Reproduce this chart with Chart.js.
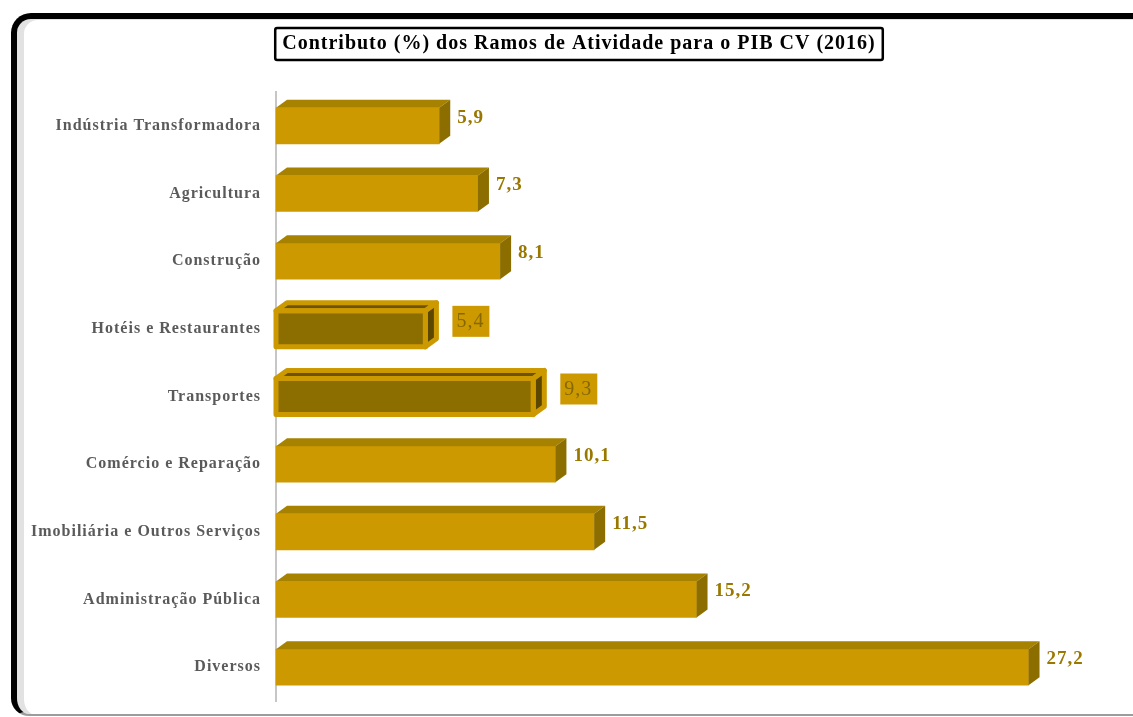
<!DOCTYPE html>
<html lang="pt">
<head>
<meta charset="utf-8">
<title>Contributo (%) dos Ramos de Atividade para o PIB CV (2016)</title>
<script src="https://cdn.jsdelivr.net/npm/chart.js@4/dist/chart.umd.min.js"></script>
<style>
  html, body { margin: 0; padding: 0; background: #ffffff; overflow: hidden; }
  #wrap { position: relative; width: 1133px; height: 717px; overflow: hidden; background: #ffffff; }
  #frame {
    position: absolute; left: 11px; top: 13px; width: 1200px; height: 703px;
    box-sizing: border-box;
    border-top: 6px solid #000; border-left: 6px solid #000;
    border-bottom: 2px solid #9c9c9c;
    border-radius: 20px 0 0 18px;
    box-shadow: inset 7px 1px 0 #e2e2e2;
  }
  #chart { position: absolute; left: 0; top: 0; }
</style>
</head>
<body>
<div id="wrap">
  <div id="frame"></div>
  <canvas id="chart" width="1133" height="717"></canvas>
</div>
<script>
// Ramos de atividade e respetivo contributo (%) para o PIB
const ramos = [
  'Indústria Transformadora',
  'Agricultura',
  'Construção',
  'Hotéis e Restaurantes',
  'Transportes',
  'Comércio e Reparação',
  'Imobiliária e Outros Serviços',
  'Administração Pública',
  'Diversos'
];
const contributo = [5.9, 7.3, 8.1, 5.4, 9.3, 10.1, 11.5, 15.2, 27.2];
// Ramos destacados no gráfico
const destaque = ['Hotéis e Restaurantes', 'Transportes'];

const titulo = 'Contributo (%) dos Ramos de Atividade para o PIB CV (2016)';

const OURO = '#CC9900';
const OURO_TOPO = '#A68200';
const OURO_LADO = '#8C6E00';
const ESCURO = '#8C6D00';
const ESCURO_TOPO = '#6C5400';
const ESCURO_LADO = '#5C4700';
const FONTE = '"Liberation Serif", "Times New Roman", serif';

const isDestaque = i => destaque.includes(ramos[i]);
const fmt = v => v.toFixed(1).replace('.', ',');

// Ligeiro espaçamento entre letras em todo o texto do canvas
const espacamento = {
  id: 'espacamento',
  beforeDraw(chart) { chart.ctx.letterSpacing = '1px'; }
};

// O título fica centrado um pouco à direita do centro do canvas
const posTitulo = {
  id: 'posTitulo',
  afterLayout(chart) {
    const tb = chart.titleBlock;
    if (tb) { tb.left += 16; tb.right += 16; }
  }
};

// Faces superior e lateral das barras (efeito 3D)
const barras3d = {
  id: 'barras3d',
  afterDatasetsDraw(chart) {
    const ctx = chart.ctx;
    const meta = chart.getDatasetMeta(0);
    const dx = 11, dy = 8;
    meta.data.forEach((el, i) => {
      const p = el.getProps(['x', 'y', 'base', 'height'], true);
      const x0 = p.base, x1 = p.x;
      const yT = p.y - p.height / 2, yB = p.y + p.height / 2;
      const topo = [[x0, yT], [x0 + dx, yT - dy], [x1 + dx, yT - dy], [x1, yT]];
      const lado = [[x1, yT], [x1 + dx, yT - dy], [x1 + dx, yB - dy], [x1, yB]];
      const poly = pts => {
        ctx.beginPath();
        pts.forEach(([a, b], k) => k ? ctx.lineTo(a, b) : ctx.moveTo(a, b));
        ctx.closePath();
      };
      ctx.save();
      const dest = isDestaque(i);
      poly(topo); ctx.fillStyle = dest ? ESCURO_TOPO : OURO_TOPO; ctx.fill();
      poly(lado); ctx.fillStyle = dest ? ESCURO_LADO : OURO_LADO; ctx.fill();
      if (dest) {
        ctx.strokeStyle = OURO;
        ctx.lineWidth = 5;
        ctx.lineJoin = 'round';
        poly(topo); ctx.stroke();
        poly(lado); ctx.stroke();
        ctx.beginPath();
        ctx.rect(x0, yT, x1 - x0, yB - yT);
        ctx.stroke();
      }
      ctx.restore();
    });
  }
};

// Rótulos com o valor de cada barra
const rotulos = {
  id: 'rotulos',
  afterDatasetsDraw(chart) {
    const ctx = chart.ctx;
    const meta = chart.getDatasetMeta(0);
    const valores = chart.data.datasets[0].data;
    meta.data.forEach((el, i) => {
      const txt = fmt(valores[i]);
      const y = el.y - 8;
      ctx.save();
      ctx.textBaseline = 'middle';
      ctx.textAlign = 'left';
      if (isDestaque(i)) {
        ctx.font = '20px ' + FONTE;
        const w = ctx.measureText(txt).width;
        const bx = el.x + 27;
        ctx.fillStyle = OURO;
        ctx.fillRect(bx, y - 15, w + 9, 31);
        ctx.fillStyle = '#876800';
        ctx.fillText(txt, bx + 4, y + 1);
      } else {
        ctx.font = 'bold 19px ' + FONTE;
        ctx.fillStyle = '#9A7800';
        ctx.fillText(txt, el.x + 18, y);
      }
      ctx.restore();
    });
  }
};

// Moldura do título
const caixaTitulo = {
  id: 'caixaTitulo',
  afterDraw(chart) {
    const tb = chart.titleBlock;
    if (!tb) return;
    const ctx = chart.ctx;
    const o = chart.options.plugins.title;
    ctx.save();
    ctx.font = 'bold ' + o.font.size + 'px ' + FONTE;
    const w = ctx.measureText(titulo).width;
    const cx = (tb.left + tb.right) / 2;
    const cy = tb.top + o.padding.top + o.font.size * 1.2 / 2;
    ctx.strokeStyle = '#000';
    ctx.lineWidth = 2.5;
    ctx.beginPath();
    ctx.roundRect(cx - w / 2 - 7, cy - 16, w + 14, 32, 2);
    ctx.stroke();
    ctx.restore();
  }
};

new Chart(document.getElementById('chart'), {
  type: 'bar',
  data: {
    labels: ramos,
    datasets: [{
      data: contributo,
      backgroundColor: ramos.map((_, i) => isDestaque(i) ? ESCURO : OURO),
      borderWidth: 0,
      barThickness: 36,
      clip: false
    }]
  },
  options: {
    indexAxis: 'y',
    responsive: false,
    animation: false,
    devicePixelRatio: 1,
    layout: { padding: { left: 20, right: 27, top: 0, bottom: 16 } },
    plugins: {
      legend: { display: false },
      tooltip: { enabled: false },
      title: {
        display: true,
        text: titulo,
        color: '#000000',
        font: { family: FONTE, size: 20, weight: 'bold' },
        padding: { top: 32, bottom: 36 }
      }
    },
    scales: {
      x: { display: false, min: 0, max: 30 },
      y: {
        afterFit(scale) {
          scale.width = 256;
          scale.paddingTop = 0;
          scale.paddingBottom = 0;
        },
        grid: { display: false, drawTicks: false },
        border: { display: true, color: '#c6c6c6', width: 2 },
        ticks: {
          color: '#5a5a5a',
          padding: 15,
          font: { family: FONTE, size: 16, weight: 'bold' }
        }
      }
    }
  },
  plugins: [espacamento, posTitulo, barras3d, rotulos, caixaTitulo]
});
</script>
</body>
</html>
